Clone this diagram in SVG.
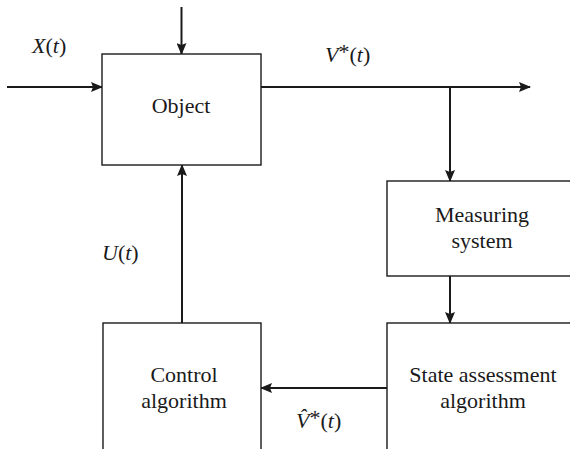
<svg xmlns="http://www.w3.org/2000/svg" width="570" height="449" viewBox="0 0 570 449">
  <style>
    .box { fill: #ffffff; stroke: #1a1a1a; stroke-width: 1.4; }
    .wire { fill: none; stroke: #1a1a1a; stroke-width: 2; }
    .lbl { font-family: "Liberation Serif", "Times New Roman", serif; font-size: 22px; fill: #1a1a1a; }
    .it { font-style: italic; }
  </style>
  <defs>
    <marker id="arrow" markerWidth="12" markerHeight="10" refX="11" refY="5" orient="auto" markerUnits="userSpaceOnUse">
      <path d="M0,0 L12,5 L0,10 L2,5 z" fill="#1a1a1a"/>
    </marker>
  </defs>
  <rect width="570" height="449" fill="#ffffff"/>

  <!-- connectors -->
  <g id="connectors">
    <line class="wire" x1="181.5" y1="7" x2="181.5" y2="54" marker-end="url(#arrow)"/>
    <line class="wire" x1="7" y1="87" x2="102" y2="87" marker-end="url(#arrow)"/>
    <line class="wire" x1="261" y1="87" x2="530" y2="87" marker-end="url(#arrow)"/>
    <line class="wire" x1="450" y1="87" x2="450" y2="181" marker-end="url(#arrow)"/>
    <line class="wire" x1="450" y1="276" x2="450" y2="323" marker-end="url(#arrow)"/>
    <line class="wire" x1="387" y1="388" x2="261" y2="388" marker-end="url(#arrow)"/>
    <line class="wire" x1="182" y1="323" x2="182" y2="165" marker-end="url(#arrow)"/>
  </g>

  <!-- signal labels -->
  <g id="labels">
    <text class="lbl" x="32" y="53"><tspan class="it">X</tspan>(<tspan class="it">t</tspan>)</text>
    <text class="lbl" x="325" y="62"><tspan class="it">V</tspan><tspan dy="-3">*</tspan><tspan dy="3">(</tspan><tspan class="it">t</tspan>)</text>
    <text class="lbl" x="102" y="260"><tspan class="it">U</tspan>(<tspan class="it">t</tspan>)</text>
    <text class="lbl" x="296" y="428"><tspan class="it">V&#x0302;</tspan><tspan dy="-3">*</tspan><tspan dy="3">(</tspan><tspan class="it">t</tspan>)</text>
  </g>

  <g id="object">
    <rect class="box" x="102" y="54" width="159" height="111"/>
    <text class="lbl" x="181" y="113" text-anchor="middle">Object</text>
  </g>

  <g id="measuring-system">
    <rect class="box" x="387" y="181" width="200" height="95"/>
    <text class="lbl" x="482" y="222" text-anchor="middle">Measuring</text>
    <text class="lbl" x="482" y="248" text-anchor="middle">system</text>
  </g>

  <g id="state-assessment">
    <rect class="box" x="387" y="323" width="200" height="140"/>
    <text class="lbl" x="483" y="382" text-anchor="middle">State assessment</text>
    <text class="lbl" x="483" y="408" text-anchor="middle">algorithm</text>
  </g>

  <g id="control-algorithm">
    <rect class="box" x="103" y="323" width="158" height="140"/>
    <text class="lbl" x="184" y="382" text-anchor="middle">Control</text>
    <text class="lbl" x="184" y="408" text-anchor="middle">algorithm</text>
  </g>
</svg>
